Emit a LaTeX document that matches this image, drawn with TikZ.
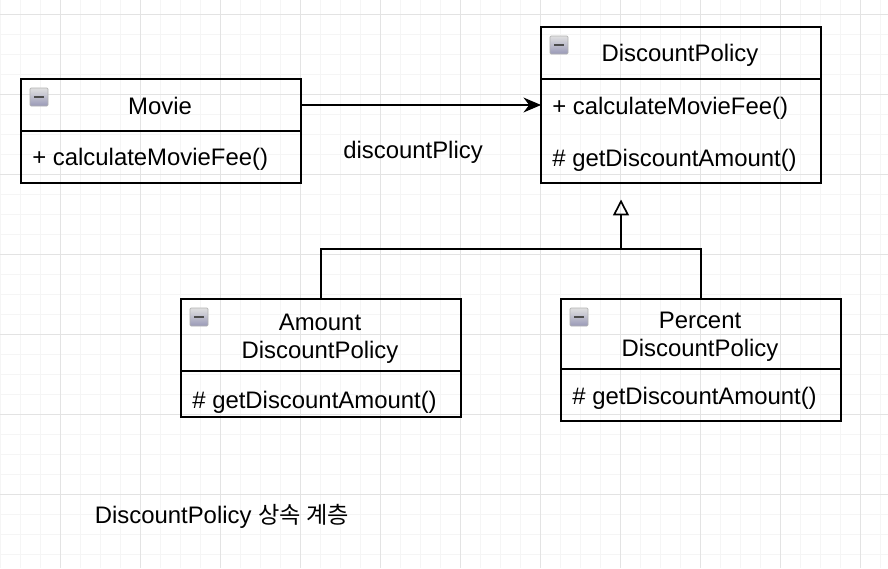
\documentclass[tikz,border=0pt]{standalone}
\usepackage{fontspec}
\setmainfont{Liberation Sans}
\newfontfamily\krfont[Scale=0.97]{Noto Sans CJK KR}
\usetikzlibrary{positioning,arrows.meta}
\tikzset{
  umlline/.style={line width=0.95pt,line join=miter},
  classhead/.style={draw,umlline,minimum width=5.6cm,inner sep=0pt,outer sep=0pt},
  classbody/.style={draw,umlline,minimum width=5.6cm,inner sep=0pt,outer sep=0pt},
  classname/.style={inner sep=0pt,align=center},
  member/.style={anchor=west,inner sep=0pt},
  caption/.style={inner sep=0pt},
  pics/minusicon/.style={code={
    \draw[rounded corners=0.6pt,draw=black!30,top color=black!12,bottom color=blue!30!black!40,line width=0.4pt] (0,0) rectangle (18,18);
    \fill[black!70] (4,8) rectangle (14,10.4);
  }}
}
\begin{document}
\begin{tikzpicture}[x=0.02cm,y=-0.02cm,font=\fontsize{13.6}{15.9}\selectfont]
\useasboundingbox (0,0) rectangle (888,568);
\fill[white] (0,0) rectangle (888,568);
% grid
\foreach \x in {0,20,...,880}\draw[color=black!4,line width=0.5pt] (\x,0)--(\x,568);
\foreach \y in {14,34,...,560}\draw[color=black!4,line width=0.5pt] (0,\y)--(888,\y);
\foreach \x in {60,140,...,860}\draw[color=black!11,line width=0.5pt] (\x,0)--(\x,568);
\foreach \y in {14,94,...,500}\draw[color=black!11,line width=0.5pt] (0,\y)--(888,\y);
% classes
\node[classhead,minimum height=1.04cm] (moviehead) at (161,105) {};
\node[classbody,minimum height=1.04cm,below=0pt of moviehead] (moviebody) {};
\node[classname] (moviename) at (160,105.5) {Movie};
\node[member] (moviefee) at (32,159) {+ calculateMovieFee()};
\node[classhead,minimum height=1.04cm] (policyhead) at (681,53) {};
\node[classbody,minimum height=2.08cm,below=0pt of policyhead] (policybody) {};
\node[classname] (policyname) at (680,55) {DiscountPolicy};
\node[member] (policyfee) at (552,108) {+ calculateMovieFee()};
\node[member] (policyamount) at (552,160) {\# getDiscountAmount()};
\node[classhead,minimum height=1.44cm] (amounthead) at (321,335) {};
\node[classbody,minimum height=0.92cm,below=0pt of amounthead] (amountbody) {};
\node[classname] (amountname) at (320,339) {Amount\\DiscountPolicy};
\node[member] (amountget) at (192,402) {\# getDiscountAmount()};
\node[classhead,minimum height=1.40cm] (percenthead) at (701,334) {};
\node[classbody,minimum height=1.04cm,below=0pt of percenthead] (percentbody) {};
\node[classname] (percentname) at (700,337) {Percent\\DiscountPolicy};
\node[member] (percentget) at (572,398) {\# getDiscountAmount()};
% icons
\pic at (30,88) {minusicon};
\pic at (550,36) {minusicon};
\pic at (190,308) {minusicon};
\pic at (570,308) {minusicon};
% connectors
\draw[umlline,-{Stealth[length=10pt,width=8.5pt]}] (moviehead.east)--(moviehead.east -| policybody.west);
\coordinate (joint) at (621,249);
\coordinate (parent) at (621,199.5);
\draw[umlline] (amounthead.north) |- (joint) -| (percenthead.north);
\draw[umlline,-{Triangle[open,length=9pt,width=9pt]}] (joint)--(parent);
% labels
\node[caption] (rolename) at (413,152) {discountPlicy};
\node[caption,anchor=west] (title) at (94.5,516) {DiscountPolicy {\krfont 상속 계층}};
\end{tikzpicture}
\end{document}
